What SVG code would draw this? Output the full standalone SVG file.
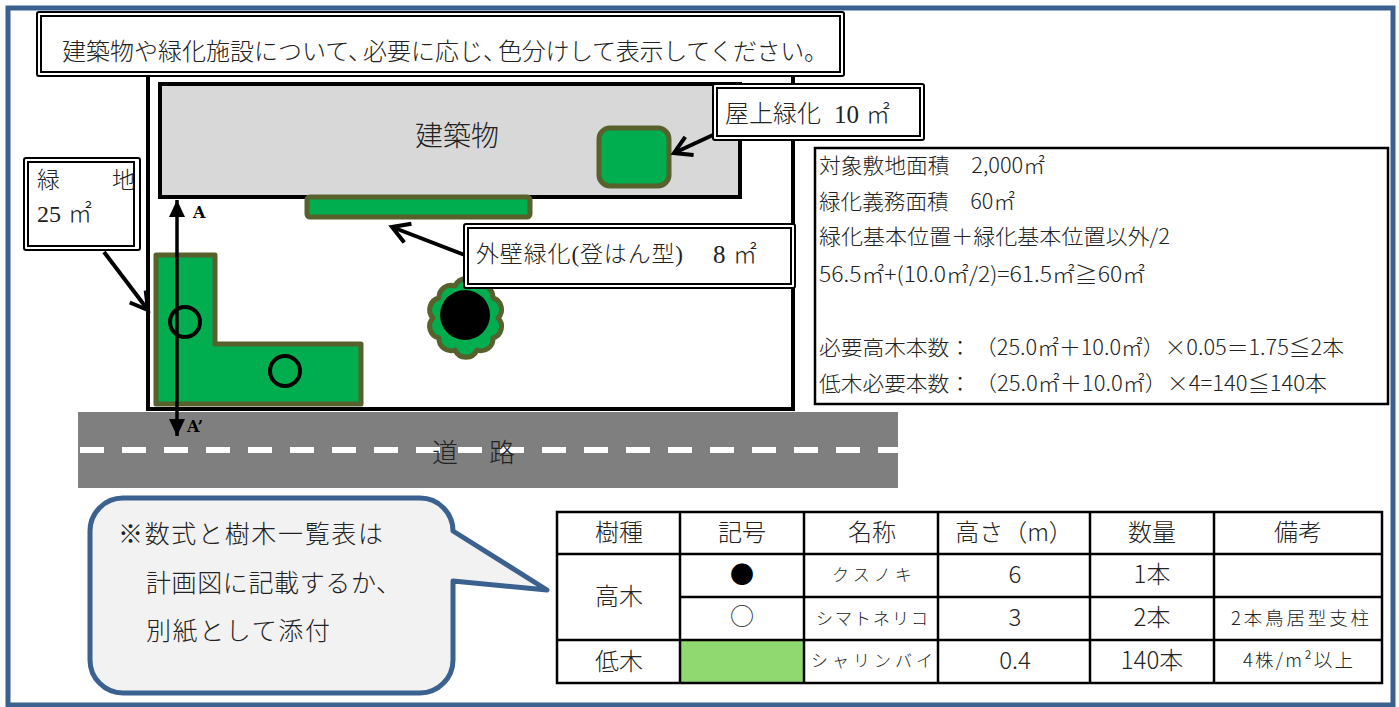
<svg xmlns="http://www.w3.org/2000/svg" width="1399" height="707" viewBox="0 0 1399 707">
<style>
text{font-family:"Noto Sans CJK JP",sans-serif;fill:#222;font-weight:300}
.ser{font-family:"Liberation Serif","Noto Sans CJK JP",serif}
.b{font-family:"DejaVu Serif",serif;font-weight:700;fill:#000;font-size:16px}
.o{fill:#fff;stroke:#000;stroke-width:2}
.i{fill:none;stroke:#000;stroke-width:2}
.g{fill:#00ae50;stroke:#56612c;stroke-width:5;stroke-linejoin:round}
.t{font-size:21px}
.h{font-size:24px;text-anchor:middle}
.s{font-size:17px;text-anchor:middle}
.s2{font-size:18.5px;text-anchor:middle}
.c{font-size:26px}
.tb{stroke:#000;stroke-width:2.5;fill:none}
.ln{stroke:#000;fill:none;stroke-width:4}
</style>
<defs>
<marker id="open" markerUnits="userSpaceOnUse" markerWidth="26" markerHeight="26" refX="21" refY="13" orient="auto"><path d="M4 3L21 13L4 23" fill="none" stroke="#000" stroke-width="4"/></marker>
<marker id="solidE" markerUnits="userSpaceOnUse" markerWidth="20" markerHeight="20" refX="17" refY="8" orient="auto"><path d="M0 0L17 8L0 16Z" fill="#000"/></marker>
<marker id="solidS" markerUnits="userSpaceOnUse" markerWidth="20" markerHeight="20" refX="0" refY="8" orient="auto"><path d="M17 0L0 8L17 16Z" fill="#000"/></marker>
</defs>
<rect id="frame" x="8" y="8" width="1385" height="697" fill="#fff" stroke="#3b6191" stroke-width="5"/>
<g id="site"><rect x="148" y="70" width="645" height="339" fill="#fff" stroke="#000" stroke-width="4"/></g>
<g id="road"><rect x="78" y="412" width="820" height="76" fill="#7f7f7f"/><path d="M80 450H898" stroke="#fff" stroke-width="6" stroke-dasharray="24 18"/><text x="432" y="462" class="c">道</text><text x="489" y="462" class="c">路</text></g>
<g id="building"><rect x="160" y="84" width="580" height="113" fill="#d8d8d8" stroke="#000" stroke-width="4"/><text x="415" y="146" font-size="28" class="ser">建築物</text></g>
<g id="roof-green"><rect x="599" y="128" width="70" height="58" rx="11" class="g"/></g>
<g id="wall-green"><rect x="307" y="197" width="223" height="20" rx="3" class="g"/></g>
<g id="garden"><path d="M156 255H215V344H361V404H156Z" class="g"/><circle cx="185" cy="322" r="15" fill="none" stroke="#000" stroke-width="4"/><circle cx="285" cy="371" r="15" fill="none" stroke="#000" stroke-width="4"/></g>
<g id="tree"><path d="M498 318A12 12 0 0 1 493 338A12 12 0 0 1 477 350A12 12 0 0 1 455 350A12 12 0 0 1 439 338A12 12 0 0 1 433 318A12 12 0 0 1 439 298A12 12 0 0 1 455 286A12 12 0 0 1 477 286A12 12 0 0 1 493 298A12 12 0 0 1 498 318Z" class="g"/><circle cx="465" cy="315" r="25" fill="#000"/></g>
<g id="connectors">
<path d="M104 252L148 310" class="ln" marker-end="url(#open)"/>
<path d="M713 135L674 153" class="ln" marker-end="url(#open)"/>
<path d="M470 257L392 227" class="ln" marker-end="url(#open)"/>
<path d="M177 200V436" stroke="#000" stroke-width="3.5" fill="none" marker-start="url(#solidS)" marker-end="url(#solidE)"/>
</g>
<g id="label-a"><text x="193" y="218" class="b">A</text><text x="187" y="432" class="b">A’</text></g>
<g id="note"><rect x="37" y="12" width="807" height="64" rx="2" class="o"/><rect x="41" y="16" width="799" height="56" class="i"/><text y="60" font-size="24" class="ser"><tspan x="62">建築物や緑化施設について、</tspan><tspan x="363">必要に応じ、</tspan><tspan x="498" textLength="330">色分けして表示してください。</tspan></text></g>
<g id="label-roof"><rect x="713" y="84" width="211" height="56" rx="2" class="o"/><rect x="717" y="88" width="203" height="48" class="i"/><text x="725" y="122" font-size="24" class="ser">屋上緑化</text><text x="834" y="123" font-size="25" class="ser">10</text><text x="866" y="123" font-size="24" class="ser">㎡</text></g>
<g id="label-wall"><rect x="464" y="224" width="331" height="64" rx="2" class="o"/><rect x="468" y="228" width="323" height="56" class="i"/><text x="476" y="262" font-size="23" class="ser" textLength="207">外壁緑化(登はん型)</text><text x="713" y="263" font-size="25" class="ser">8</text><text x="733" y="263" font-size="24" class="ser">㎡</text></g>
<g id="label-green"><rect x="24" y="158" width="116" height="92" rx="2" class="o"/><rect x="28" y="162" width="106" height="84" class="i"/><text x="37" y="188" font-size="23" class="ser">緑</text><text x="112" y="188" font-size="23" class="ser">地</text><text x="37" y="222" font-size="24" class="ser">25</text><text x="68" y="222" font-size="24" class="ser">㎡</text></g>
<g id="info"><rect x="815" y="148" width="573" height="256" fill="#fff" stroke="#000" stroke-width="2.5"/>
<text x="819" y="173" class="t" textLength="226" lengthAdjust="spacingAndGlyphs">対象敷地面積　2,000㎡</text>
<text x="819" y="209" class="t" textLength="196" lengthAdjust="spacingAndGlyphs">緑化義務面積　60㎡</text>
<text x="819" y="244" class="t" textLength="351" lengthAdjust="spacingAndGlyphs">緑化基本位置＋緑化基本位置以外/2</text>
<text x="819" y="282" class="t" textLength="326" lengthAdjust="spacingAndGlyphs">56.5㎡+(10.0㎡/2)=61.5㎡≧60㎡</text>
<text y="355" class="t"><tspan x="819" textLength="152" lengthAdjust="spacingAndGlyphs">必要高木本数：</tspan><tspan x="975" textLength="369" lengthAdjust="spacingAndGlyphs">（25.0㎡＋10.0㎡）×0.05＝1.75≦2本</tspan></text>
<text y="391" class="t"><tspan x="819" textLength="152" lengthAdjust="spacingAndGlyphs">低木必要本数：</tspan><tspan x="975" textLength="352" lengthAdjust="spacingAndGlyphs">（25.0㎡＋10.0㎡）×4=140≦140本</tspan></text>
</g>
<g id="callout"><path d="M123 498H420A33 33 0 0 1 453 531L547 590L453 581V660A33 33 0 0 1 420 693H123A33 33 0 0 1 90 660V531A33 33 0 0 1 123 498Z" fill="#f2f2f2" stroke="#3b6191" stroke-width="5" stroke-linejoin="round"/>
<text x="118" y="543" font-size="25" class="ser" textLength="265">※数式と樹木一覧表は</text>
<text x="146" y="592" font-size="25" class="ser" textLength="255">計画図に記載するか、</text>
<text x="146" y="640" font-size="25" class="ser" textLength="184">別紙として添付</text></g>
<g id="table">
<rect x="681" y="641" width="123" height="42" fill="#90d870"/>
<rect x="557" y="512" width="825" height="171" class="tb"/>
<path d="M557 554H1382M680 597H1382M557 640H1382M680 512V683M804 512V683M938 512V683M1090 512V683M1214 512V683" class="tb"/>
<text x="619" y="541" class="h">樹種</text><text x="742" y="541" class="h">記号</text><text x="872" y="541" class="h">名称</text><text x="1014" y="541" class="h">高さ（m）</text><text x="1152" y="541" class="h">数量</text><text x="1298" y="541" class="h">備考</text>
<text x="619" y="605" class="h">高木</text><text x="619" y="670" class="h">低木</text>
<text x="742" y="583" class="h" style="fill:#000">●</text><text x="742" y="625" class="h">○</text>
<text x="872" y="581" class="s" textLength="80">クスノキ</text><text x="872" y="625" class="s" textLength="112">シマトネリコ</text><text x="872" y="667" class="s" textLength="122">シャリンバイ</text>
<text x="1015" y="583" class="h">6</text><text x="1015" y="626" class="h">3</text><text x="1015" y="669" class="h">0.4</text>
<text x="1152" y="583" class="h">1本</text><text x="1152" y="626" class="h">2本</text><text x="1152" y="669" class="h">140本</text>
<text x="1300" y="625" class="s2" textLength="138">2本鳥居型支柱</text><text x="1298" y="667" class="s2" textLength="110">4株/m²以上</text>
</g>
</svg>
